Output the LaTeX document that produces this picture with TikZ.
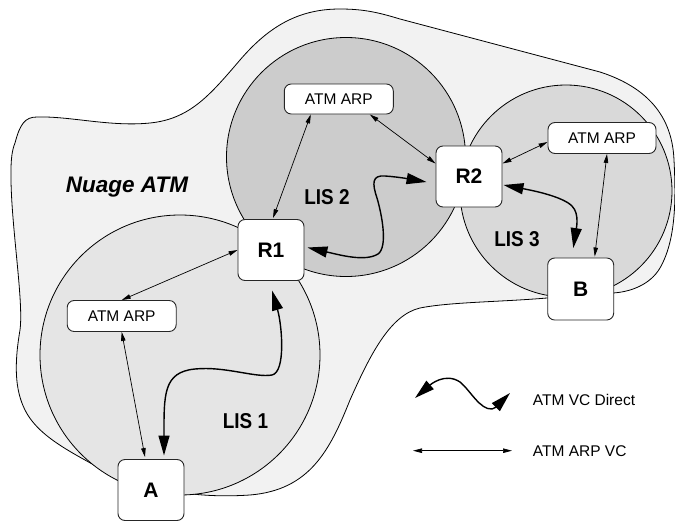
\documentclass[tikz,border=0pt]{standalone}
\usepackage{graphicx}
\usepackage{fontspec}
\setmainfont{Liberation Sans}
\usetikzlibrary{arrows.meta,calc}
\newcommand\nrw[1]{\scalebox{0.88}[1]{#1}}
\begin{document}
\begin{tikzpicture}[x=1pt,y=-1pt,
  box/.style={draw=black!85, fill=white, rounded corners=7pt, line width=0.9pt, inner sep=0pt},
  rbox/.style={box, minimum width=66pt, minimum height=61pt, font=\fontsize{21}{21}\selectfont\bfseries},
  arpbox/.style={box, minimum width=109pt, minimum height=31pt, font=\fontsize{15.5}{16}\selectfont},
  lis/.style={draw=black, line width=0.8pt},
  arpvc/.style={line width=0.7pt, {Triangle[length=9pt,width=4.5pt]}-{Triangle[length=9pt,width=4.5pt]}},
  vcdir/.style={line width=1.4pt, {Triangle[length=20pt,width=11pt]}-{Triangle[length=20pt,width=11pt]}},
  lbl/.style={font=\fontsize{21.5}{22}\selectfont\bfseries, inner sep=0pt, anchor=base},
  legtxt/.style={font=\fontsize{15.5}{16}\selectfont, inner sep=0pt, anchor=base west},
]
\useasboundingbox (0,0) rectangle (675,522);
% cloud
\draw[fill=gray!10, line width=0.8pt]
  (15,143) .. controls (20,124) and (25,117) .. (37,117)
  .. controls (70,116) and (110,127) .. (150,123)
  .. controls (190,119) and (210,95) .. (240,60)
  .. controls (270,25) and (300,9) .. (340,9)
  .. controls (365,9) and (380,13) .. (400,19)
  -- (600,72)
  .. controls (640,85) and (672,110) .. (674,160)
  .. controls (676,200) and (676,240) .. (660,268)
  .. controls (650,285) and (630,292) .. (613,293)
  -- (547,298)
  .. controls (500,302) and (450,302) .. (420,308)
  .. controls (390,315) and (370,355) .. (350,400)
  .. controls (330,450) and (310,490) .. (250,495)
  .. controls (220,497) and (200,495) .. (183,493)
  -- (117,478)
  .. controls (80,456) and (40,440) .. (25,410)
  .. controls (15,390) and (14,365) .. (20,330)
  .. controls (24,300) and (10,220) .. (11,170)
  .. controls (11,160) and (12,150) .. (15,143) -- cycle;
% LIS circles
\draw[lis, fill=gray!20] (180,355) circle[radius=140pt];
\draw[lis, fill=gray!30] (566,191) circle[radius=106pt];
\draw[lis, fill=gray!40] (346,157) circle[radius=119.5pt];
% nodes
\node[rbox] (R1) at (271,250) {R1};
\node[rbox] (R2) at (469,176.5) {R2};
\node[rbox] (A) at (151,490) {A};
\node[rbox, minimum height=62pt] (B) at (580.7,289) {B};
\node[arpbox] (arp1) at (121.7,316) {ATM ARP};
\node[arpbox, minimum height=30pt] (arp2) at (338.8,99) {ATM ARP};
\node[arpbox, minimum width=108pt] (arp3) at (602,138) {ATM ARP};
% labels
\node[lbl] (lis1) at (245.5,428.3) {\nrw{LIS 1}};
\node[lbl] (lis2) at (327,204) {\nrw{LIS 2}};
\node[lbl] (lis3) at (517,246.7) {\nrw{LIS 3}};
\node[font=\fontsize{22.5}{23}\selectfont\bfseries\itshape, inner sep=0pt, anchor=base] (nuage) at (127,192.3) {Nuage ATM};
% ATM ARP VC arrows
\draw[arpvc] (arp1.north) -- (R1.west);
\draw[arpvc] (arp1.south) -- ($(A.north)+(-6,-2)$);
\draw[arpvc] ($(arp2.south)+(-28,0)$) -- ($(R1.north)+(2,-1)$);
\draw[arpvc] ($(arp2.south)+(31,0)$) -- ($(R2.west)+(0,-13)$);
\draw[arpvc] ($(arp3.west)+(0,4)$) -- ($(R2.east)+(0,-13)$);
\draw[arpvc] ($(arp3.south)+(5,0)$) -- ($(B.north)+(14,-1)$);
% ATM VC Direct arrows
\draw[vcdir] ($(A.north)+(13,-3.5)$) .. controls (164,395) and (163,372) .. (195,369)
  .. controls (225,366) and (255,378) .. (272,375)
  .. controls (286,372) and (282,325) .. ($(R1.south)+(1,9.5)$);
\draw[vcdir] ($(R1.east)+(3,-2.5)$) .. controls (340,255) and (365,262) .. (378,254)
  .. controls (388,247) and (382,215) .. (377,198)
  .. controls (372,183) and (372,175) .. (385,176)
  .. controls (400,177) and (415,180) .. ($(R2.west)+(-9,5.5)$);
\draw[vcdir] ($(R2.east)+(1,8.5)$) .. controls (530,190) and (562,196) .. (572,206)
  .. controls (580,214) and (576,230) .. ($(B.north)+(-7.4,-9.5)$);
% legend
\coordinate (lg1a) at (415,398);
\coordinate (lg1b) at (510,393);
\coordinate (lg2a) at (413,450.7);
\coordinate (lg2b) at (512,450.7);
\draw[vcdir] (lg1a) .. controls (430,385) and (445,372) .. (460,382)
  .. controls (470,390) and (480,410) .. (492,409)
  .. controls (497,408) and (503,400) .. (lg1b);
\draw[arpvc] (lg2a) -- (lg2b);
\node[legtxt] (leg1) at (532.7,405.7) {ATM VC Direct};
\node[legtxt] (leg2) at (532.7,456.7) {ATM ARP VC};
\end{tikzpicture}
\end{document}
